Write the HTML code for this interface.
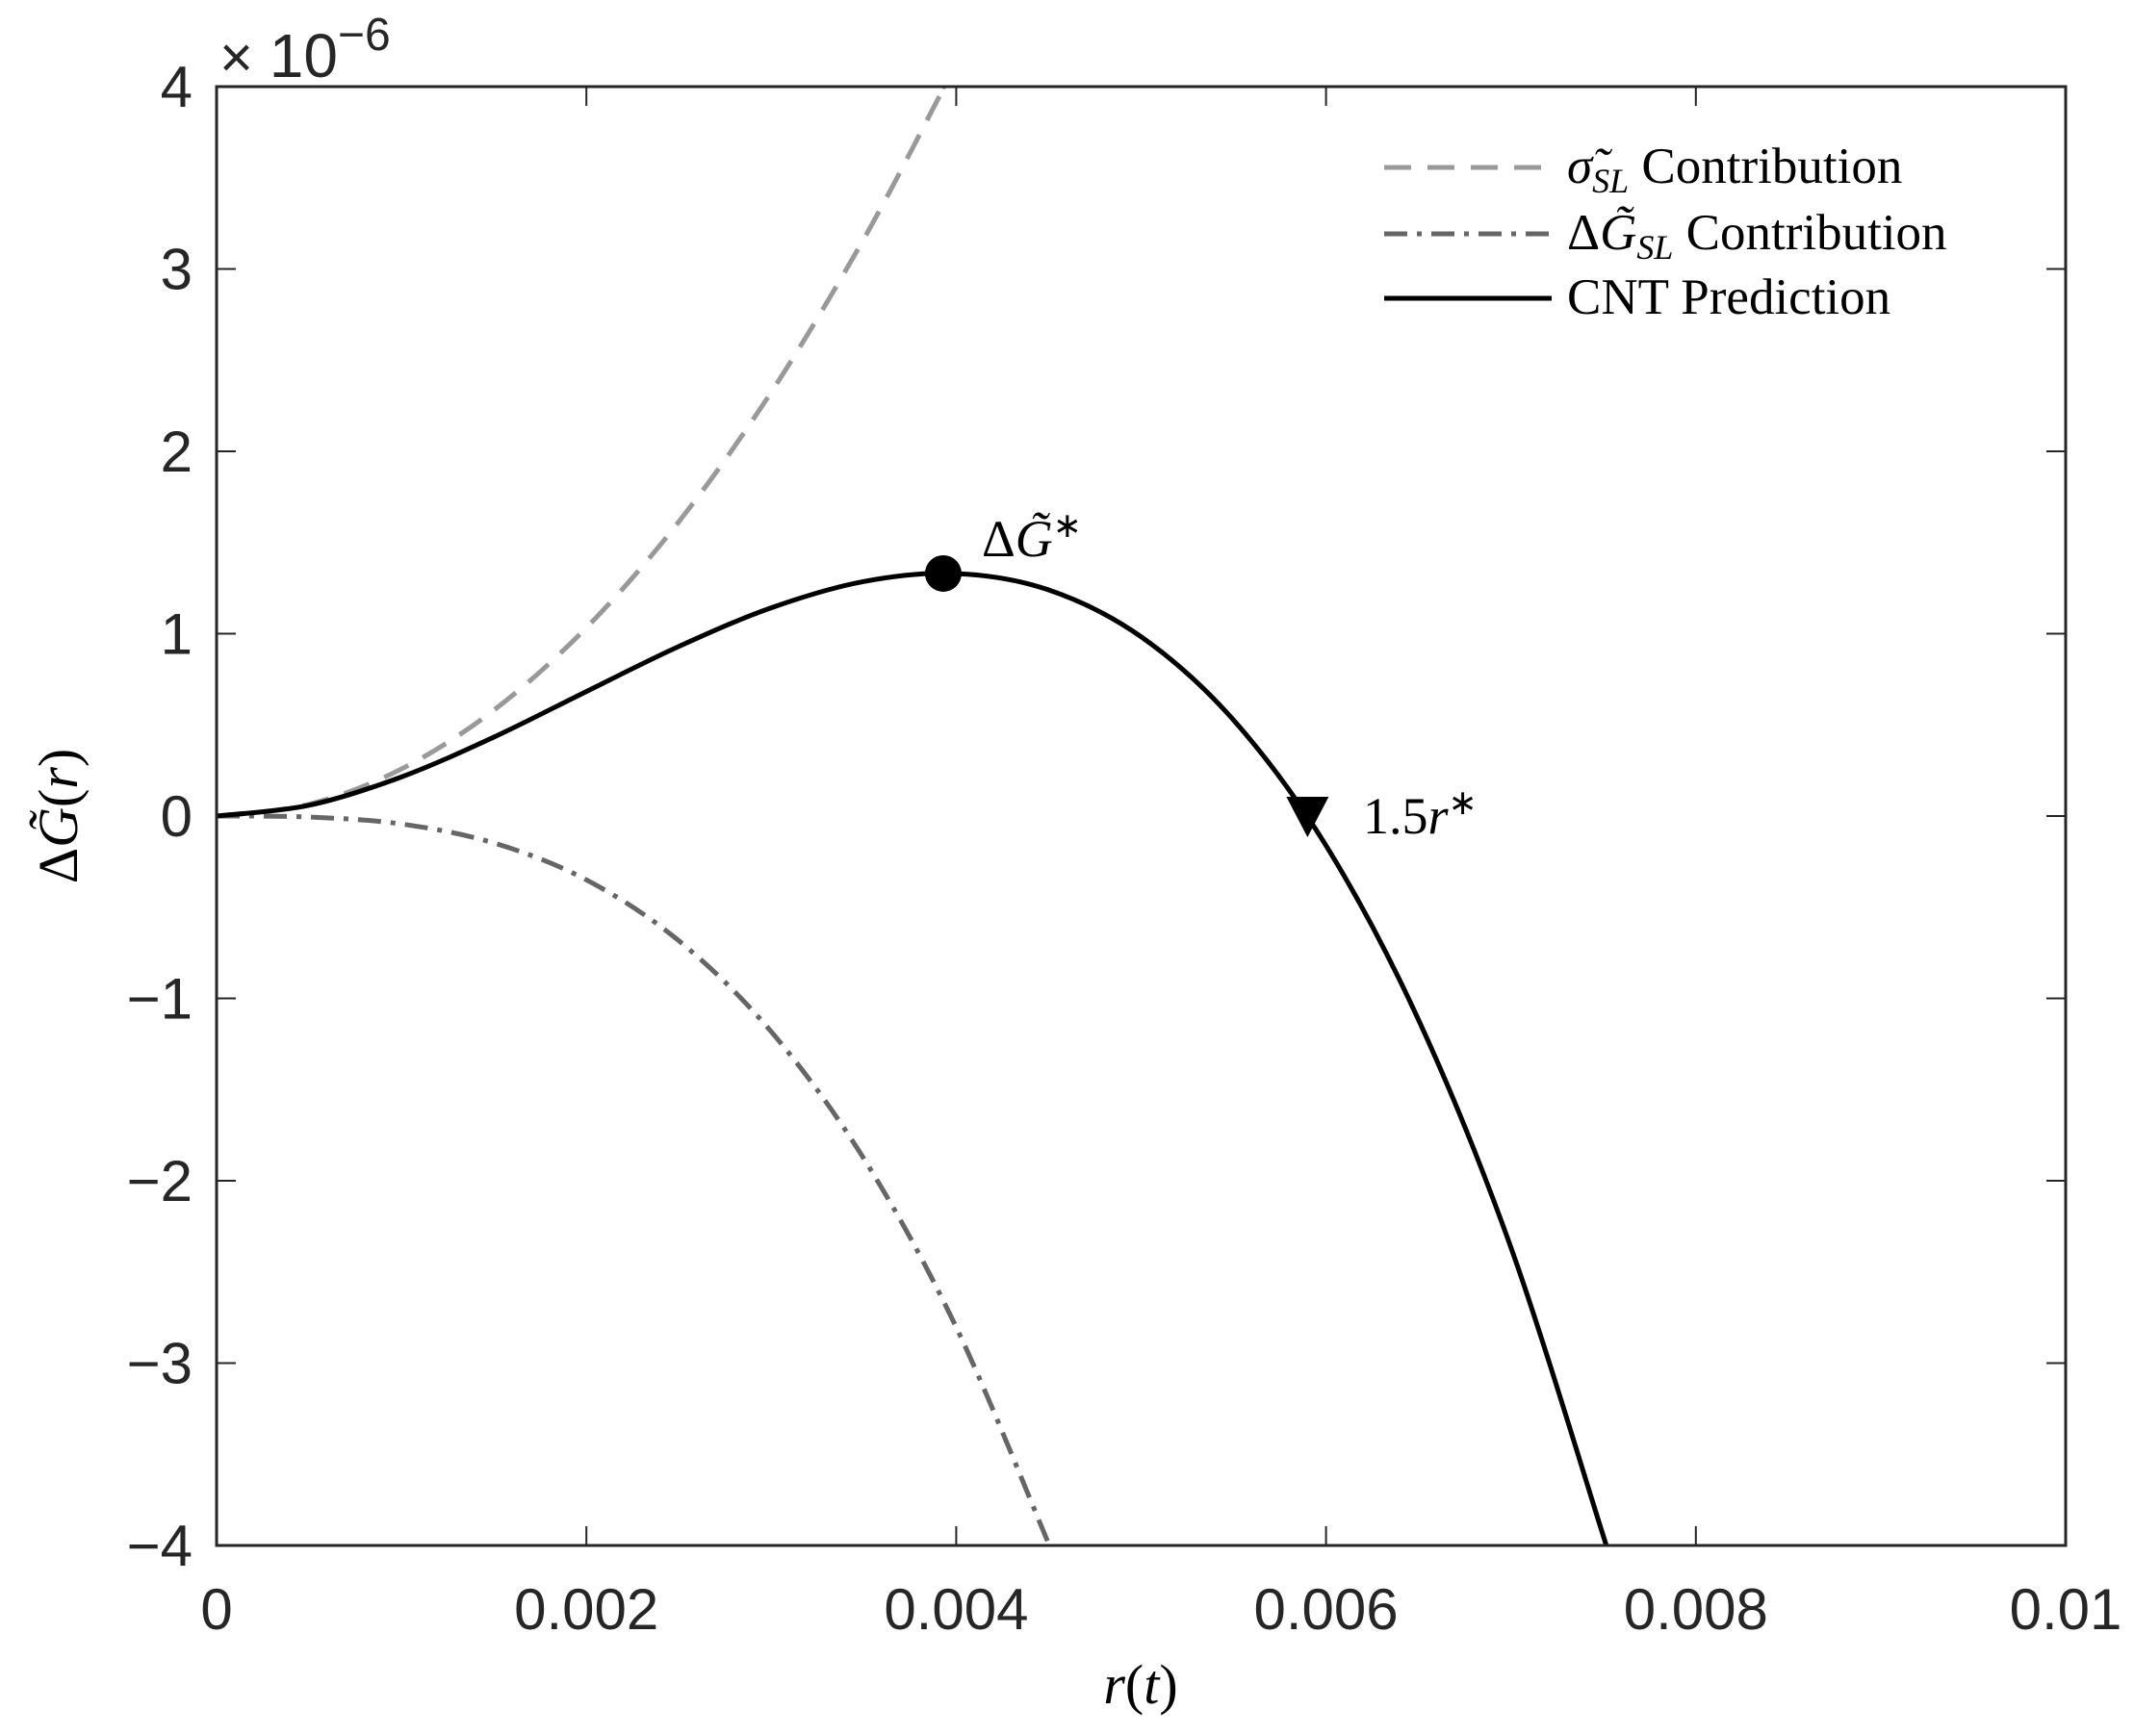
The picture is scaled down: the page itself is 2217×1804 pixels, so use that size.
<!DOCTYPE html>
<html><head><meta charset="utf-8"><style>
html,body{margin:0;padding:0;background:#fff;width:2217px;height:1804px;overflow:hidden;}
svg{display:block;}
.tick{font-family:"Liberation Sans",sans-serif;font-size:60px;fill:#262626;}
.ser{font-family:"Liberation Serif",serif;fill:#000;}
</style></head><body>
<svg id="chart" width="2217" height="1804" viewBox="0 0 2217 1804" xmlns="http://www.w3.org/2000/svg">
<rect x="0" y="0" width="2217" height="1804" fill="#fff"/>
<defs><clipPath id="plotclip"><rect x="225" y="90" width="1921" height="1516"/></clipPath></defs>
<g id="ticks"></g>
<g id="series" clip-path="url(#plotclip)"></g>
<rect x="225" y="90" width="1921" height="1516" fill="none" stroke="#262626" stroke-width="3"/>
<text class="tick" x="228" y="80" font-size="52">× <tspan font-size="64">10</tspan><tspan dy="-28" font-size="48">−6</tspan></text>
<text class="ser" x="1185" y="1770" font-size="58" text-anchor="middle"><tspan font-style="italic">r</tspan>(<tspan font-style="italic">t</tspan>)</text>
<text class="ser" font-size="58" text-anchor="middle" transform="translate(80,848) rotate(-90)">Δ<tspan font-style="italic">G̃</tspan>(<tspan font-style="italic">r</tspan>)</text>
<text class="ser" x="1020" y="578" font-size="54">Δ<tspan font-style="italic">G̃</tspan><tspan dy="-20" font-size="36">∗</tspan></text>
<text class="ser" x="1416" y="866" font-size="54">1.5<tspan font-style="italic">r</tspan><tspan dy="-20" font-size="36">∗</tspan></text>
<g>
<line x1="1438" y1="174" x2="1612" y2="174" stroke="#999" stroke-width="5" stroke-dasharray="28 17"/>
<text class="ser" x="1628" y="190" font-size="53"><tspan font-style="italic">σ̃</tspan><tspan font-style="italic" font-size="36" dy="10">SL</tspan><tspan dy="-10"> Contribution</tspan></text>
<line x1="1438" y1="243" x2="1612" y2="243" stroke="#666" stroke-width="5" stroke-dasharray="24 10 5 10"/>
<text class="ser" x="1628" y="259" font-size="53">Δ<tspan font-style="italic">G̃</tspan><tspan font-style="italic" font-size="36" dy="10">SL</tspan><tspan dy="-10"> Contribution</tspan></text>
<line x1="1438" y1="310" x2="1612" y2="310" stroke="#000" stroke-width="5"/>
<text class="ser" x="1628" y="326" font-size="53">CNT Prediction</text>
</g>
</svg>
<script>
const rValues = [0,0.0005,0.001,0.0015,0.002,0.0025,0.003,0.0035,0.0039,0.003935];
const sigmaValues = [0,0.0646,0.2583,0.581,1.033,1.614,2.325,3.164,3.929,4.0];
const rG = [0,0.0005,0.001,0.0015,0.002,0.0025,0.003,0.0035,0.004,0.0045,0.00452];
const gValues = [0,-0.0055,-0.0438,-0.148,-0.350,-0.684,-1.183,-1.878,-2.803,-3.991,-4.045];
const rCNT = [0,0.0005,0.001,0.0015,0.002,0.0025,0.003,0.0035,0.004,0.0045,0.005,0.0055,0.006,0.0065,0.007,0.0075,0.00752];
const cntValues = [0,0.059,0.2145,0.433,0.683,0.930,1.142,1.286,1.330,1.240,0.983,0.526,-0.162,-1.117,-2.366,-3.949,-4.02];
const peakPoint = [0.00393,1.33];
const rootPoint = [0.0059,0];
const xTicks = [0,0.002,0.004,0.006,0.008,0.01];
const xTickLabels = ["0","0.002","0.004","0.006","0.008","0.01"];
const yTicks = [-4,-3,-2,-1,0,1,2,3,4];
const yTickLabels = ["−4","−3","−2","−1","0","1","2","3","4"];

const NS="http://www.w3.org/2000/svg";
const X=v=>225+v/0.01*1921;
const Y=v=>848-v*189.5;
function mk(tag,attrs,parent){const e=document.createElementNS(NS,tag);for(const k in attrs)e.setAttribute(k,attrs[k]);parent.appendChild(e);return e;}
const tg=document.getElementById('ticks');
xTicks.forEach((t,i)=>{
  const x=X(t);
  const a=mk('line',{x1:x,y1:1606,x2:x,y2:1586,stroke:'#262626','stroke-width':2},tg);
  
  
  const b=mk('line',{x1:x,y1:90,x2:x,y2:110,stroke:'#262626','stroke-width':2},tg);
  
  
  const l=mk('text',{x:x,y:1693,'text-anchor':'middle',class:'tick'},tg);
  l.textContent=xTickLabels[i];
  
  
});
yTicks.forEach((t,i)=>{
  const y=Y(t);
  const a=mk('line',{x1:225,y1:y,x2:245,y2:y,stroke:'#262626','stroke-width':2},tg);
  
  
  const b=mk('line',{x1:2126,y1:y,x2:2146,y2:y,stroke:'#262626','stroke-width':2},tg);
  
  
  const l=mk('text',{x:200,y:y+21,'text-anchor':'end',class:'tick'},tg);
  l.textContent=yTickLabels[i];
  
  
});
function smooth(xs,ys){
  const p=xs.map((x,i)=>[X(x),Y(ys[i])]);
  let d='M'+p[0][0]+','+p[0][1];
  for(let i=0;i<p.length-1;i++){
    const p0=p[Math.max(0,i-1)],p1=p[i],p2=p[i+1],p3=p[Math.min(p.length-1,i+2)];
    const c1=[p1[0]+(p2[0]-p0[0])/6,p1[1]+(p2[1]-p0[1])/6];
    const c2=[p2[0]-(p3[0]-p1[0])/6,p2[1]-(p3[1]-p1[1])/6];
    d+=' C'+c1[0]+','+c1[1]+' '+c2[0]+','+c2[1]+' '+p2[0]+','+p2[1];
  }
  return d;
}
const sg=document.getElementById('series');
const s1=mk('path',{d:smooth(rValues,sigmaValues),fill:'none',stroke:'#999','stroke-width':5,'stroke-dasharray':'28 17'},sg);


const s2=mk('path',{d:smooth(rG,gValues),fill:'none',stroke:'#666','stroke-width':5,'stroke-dasharray':'24 10 5 10'},sg);


const s3=mk('path',{d:smooth(rCNT,cntValues),fill:'none',stroke:'#000','stroke-width':5},sg);


const svg=document.getElementById('chart');
const pk=mk('circle',{cx:X(peakPoint[0]),cy:Y(peakPoint[1]),r:19,fill:'#000'},svg);


const rx=X(rootPoint[0]),ry=Y(rootPoint[1]);
const tr=mk('polygon',{points:(rx-22)+','+(ry-20)+' '+(rx+22)+','+(ry-20)+' '+rx+','+(ry+22),fill:'#000'},svg);


</script>
</body></html>
